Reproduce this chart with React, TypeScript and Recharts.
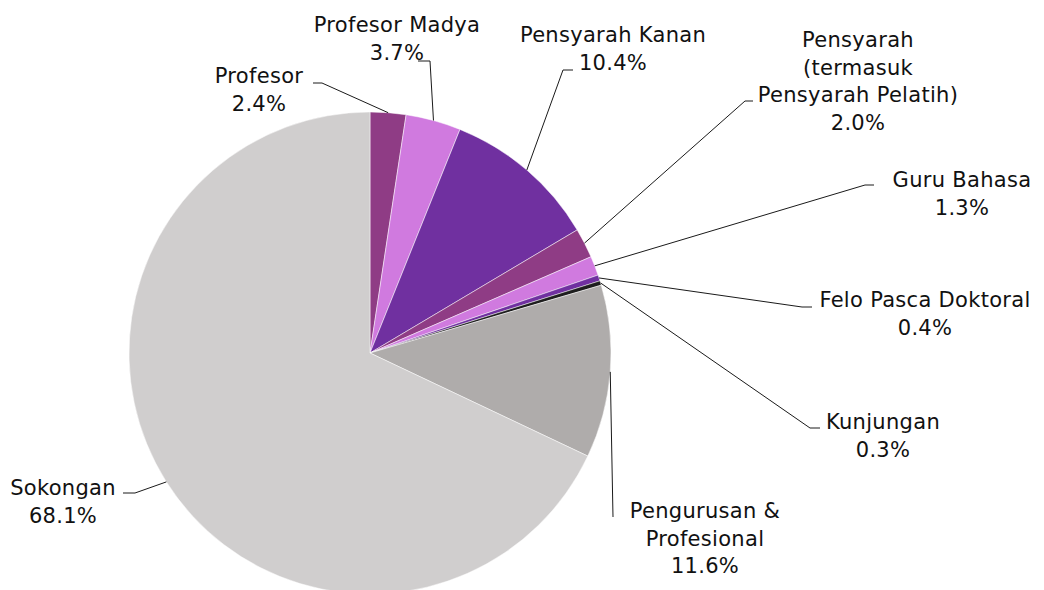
import { Cell, Pie, PieChart } from "recharts";

// categories, name split over lines as in the source chart
const categories = [
  ["Profesor"],
  ["Profesor Madya"],
  ["Pensyarah Kanan"],
  ["Pensyarah", "(termasuk", "Pensyarah Pelatih)"],
  ["Guru Bahasa"],
  ["Felo Pasca Doktoral"],
  ["Kunjungan"],
  ["Pengurusan &", "Profesional"],
  ["Sokongan"],
];

// share of staff, percent
const shares = [2.4, 3.7, 10.4, 2.0, 1.3, 0.4, 0.3, 11.6, 68.1];

const colors = [
  "#8F3C85",
  "#D07ADF",
  "#7030A0",
  "#8F3C85",
  "#D07ADF",
  "#7030A0",
  "#1E1E1E",
  "#AFACAB",
  "#D0CECE",
];

// label layout: text centre, first baseline, leader elbow and leader end
const labelLayout = [
  { tx: 259, ty: 83, elbow: [322, 83], end: [313, 83] },
  { tx: 397, ty: 32, elbow: [430, 61], end: [418, 61] },
  { tx: 613, ty: 42, elbow: [563, 70], end: [573, 70] },
  { tx: 858, ty: 47, elbow: [745, 101], end: [753, 101] },
  { tx: 962, ty: 187, elbow: [865, 185], end: [874, 185] },
  { tx: 925, ty: 307, elbow: [802, 307], end: [812, 307] },
  { tx: 883, ty: 429, elbow: [810, 428], end: [820, 428] },
  { tx: 705, ty: 518, elbow: [613, 517], end: null },
  { tx: 63, ty: 495, elbow: [135, 493], end: [123, 493] },
];

const data = categories.map((lines, i) => ({
  name: lines.join(" "),
  value: shares[i],
}));

const RAD = Math.PI / 180;
const LINE_H = 27.5;

const renderLabel = (props: any) => {
  const { cx, cy, midAngle, outerRadius, index } = props;
  const lay = labelLayout[index];
  const sx = cx + outerRadius * Math.cos(-midAngle * RAD);
  const sy = cy + outerRadius * Math.sin(-midAngle * RAD);
  const pts = [[sx, sy], lay.elbow];
  if (lay.end) pts.push(lay.end);
  const lines = [...categories[index], `${shares[index].toFixed(1)}%`];

  return (
    <g>
      <polyline
        points={pts.map((p) => p.join(",")).join(" ")}
        fill="none"
        stroke="#1a1a1a"
        strokeWidth={1}
      />
      <text
        textAnchor="middle"
        fill="#111"
        fontSize={21}
        letterSpacing={0.3}
        fontFamily="'DejaVu Sans', sans-serif"
      >
        {lines.map((l, j) => (
          <tspan key={j} x={lay.tx} y={lay.ty + j * LINE_H}>
            {l}
          </tspan>
        ))}
      </text>
    </g>
  );
};

export default function App() {
  return (
    <div
      style={{
        position: "fixed",
        left: 0,
        top: 0,
        width: 1044,
        height: 590,
        background: "#fff",
      }}
    >
      <PieChart
        width={1044}
        height={590}
        margin={{ top: 0, right: 0, bottom: 0, left: 0 }}
      >
        <Pie
          data={data}
          dataKey="value"
          nameKey="name"
          cx={370}
          cy={353}
          outerRadius={241}
          startAngle={90}
          endAngle={-270}
          stroke="#ffffff"
          strokeWidth={0.5}
          label={renderLabel}
          labelLine={false}
          isAnimationActive={false}
        >
          {data.map((d, i) => (
            <Cell key={d.name} fill={colors[i]} />
          ))}
        </Pie>
      </PieChart>
    </div>
  );
}
